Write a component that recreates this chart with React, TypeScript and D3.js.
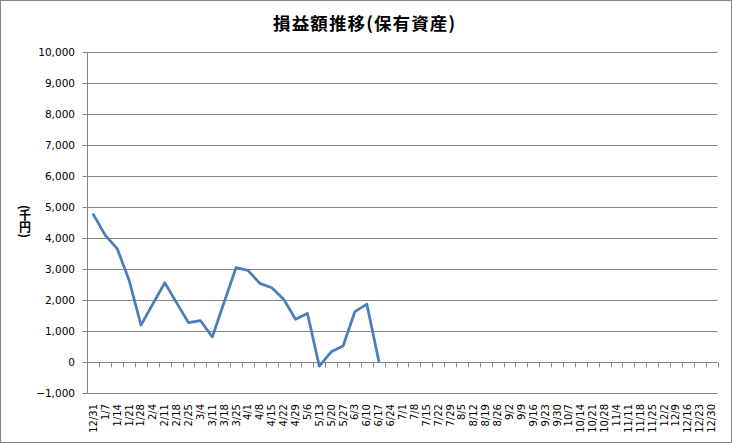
import React from "react";
import * as d3 from "d3";

const TITLE = "損益額推移(保有資産)";
const Y_LABEL = "(千円)";

const categories = [
  "12/31", "1/7", "1/14", "1/21", "1/28", "2/4", "2/11", "2/18", "2/25",
  "3/4", "3/11", "3/18", "3/25", "4/1", "4/8", "4/15", "4/22", "4/29",
  "5/6", "5/13", "5/20", "5/27", "6/3", "6/10", "6/17", "6/24",
  "7/1", "7/8", "7/15", "7/22", "7/29", "8/5", "8/12", "8/19", "8/26",
  "9/2", "9/9", "9/16", "9/23", "9/30", "10/7", "10/14", "10/21", "10/28",
  "11/4", "11/11", "11/18", "11/25", "12/2", "12/9", "12/16", "12/23", "12/30",
];

const values = [
  4750, 4080, 3650, 2630, 1180, 1870, 2550, 1900, 1260, 1330, 800, 1930,
  3040, 2950, 2530, 2390, 2020, 1370, 1560, -140, 320, 510, 1620, 1860, 30,
];

const yTicks = [-1000, 0, 1000, 2000, 3000, 4000, 5000, 6000, 7000, 8000, 9000, 10000];

const W = 733;
const H = 444;
const left = 87.5;
const right = 717.5;
const top = 52;
const bottom = 392.7;

export default function App() {
  const x = d3
    .scaleBand<string>()
    .domain(categories)
    .range([left, right])
    .paddingInner(0)
    .paddingOuter(0);
  const y = d3.scaleLinear().domain([-1000, 10000]).range([bottom, top]);
  const bw = x.bandwidth();
  const fmt = d3.format(",");

  const line = d3
    .line<number>()
    .x((_, i) => (x(categories[i]) as number) + bw / 2)
    .y((d) => y(d));

  const grid = "#868686";
  const y0 = Math.round(y(0)) + 0.5;

  return (
    <div style={{ position: "fixed", left: 0, top: 0 }}>
      <svg width={W} height={H} style={{ display: "block", background: "#fff" }}>
        <rect x={0.5} y={0.5} width={731} height={442} fill="#fff" stroke="#868686" strokeWidth={1} />
        <text
          x={364}
          y={30}
          textAnchor="middle"
          fontFamily="'Noto Sans CJK JP', sans-serif"
          fontWeight="bold"
          fontSize={17.5}
          fill="#000"
          textLength={182}
          lengthAdjust="spacing"
        >
          {TITLE}
        </text>
        <text
          x={25}
          y={205}
          fontFamily="'Noto Sans CJK JP', sans-serif"
          fontWeight="bold"
          fontSize={12}
          fill="#000"
          style={{ writingMode: "vertical-rl" } as any}
        >
          {Y_LABEL}
        </text>
        {yTicks.map((t) => {
          const yy = Math.round(y(t)) + 0.5;
          return (
            <g key={t}>
              <line x1={left} x2={right} y1={yy} y2={yy} stroke={grid} strokeWidth={1} />
              <line x1={left - 5} x2={left} y1={yy} y2={yy} stroke={grid} strokeWidth={1} />
              <text
                x={75}
                y={yy}
                dy="0.35em"
                textAnchor="end"
                fontFamily="'DejaVu Sans', sans-serif"
                fontSize={10.5}
                fill="#000"
              >
                {fmt(t)}
              </text>
            </g>
          );
        })}
        <line x1={left} x2={left} y1={top} y2={Math.round(bottom) + 0.5} stroke={grid} strokeWidth={1} />
        {categories.map((c, i) => {
          const xx = Math.round((x(c) as number) + bw) + 0.5;
          return (
            <line key={"t" + i} x1={xx} x2={xx} y1={y0} y2={y0 + 5} stroke={grid} strokeWidth={1} />
          );
        })}
        <line x1={left} x2={right} y1={y0} y2={y0} stroke={grid} strokeWidth={1} />
        {categories.map((c) => {
          const cx = (x(c) as number) + bw / 2;
          return (
            <text
              key={"l" + c}
              transform={`translate(${cx},404) rotate(-90)`}
              dy="0.35em"
              textAnchor="end"
              fontFamily="'DejaVu Sans', sans-serif"
              fontSize={10}
              fill="#000"
            >
              {c}
            </text>
          );
        })}
        <path
          d={line(values) || ""}
          fill="none"
          stroke="#4a7ebb"
          strokeWidth={2.75}
          strokeLinejoin="round"
          strokeLinecap="round"
        />
      </svg>
    </div>
  );
}
